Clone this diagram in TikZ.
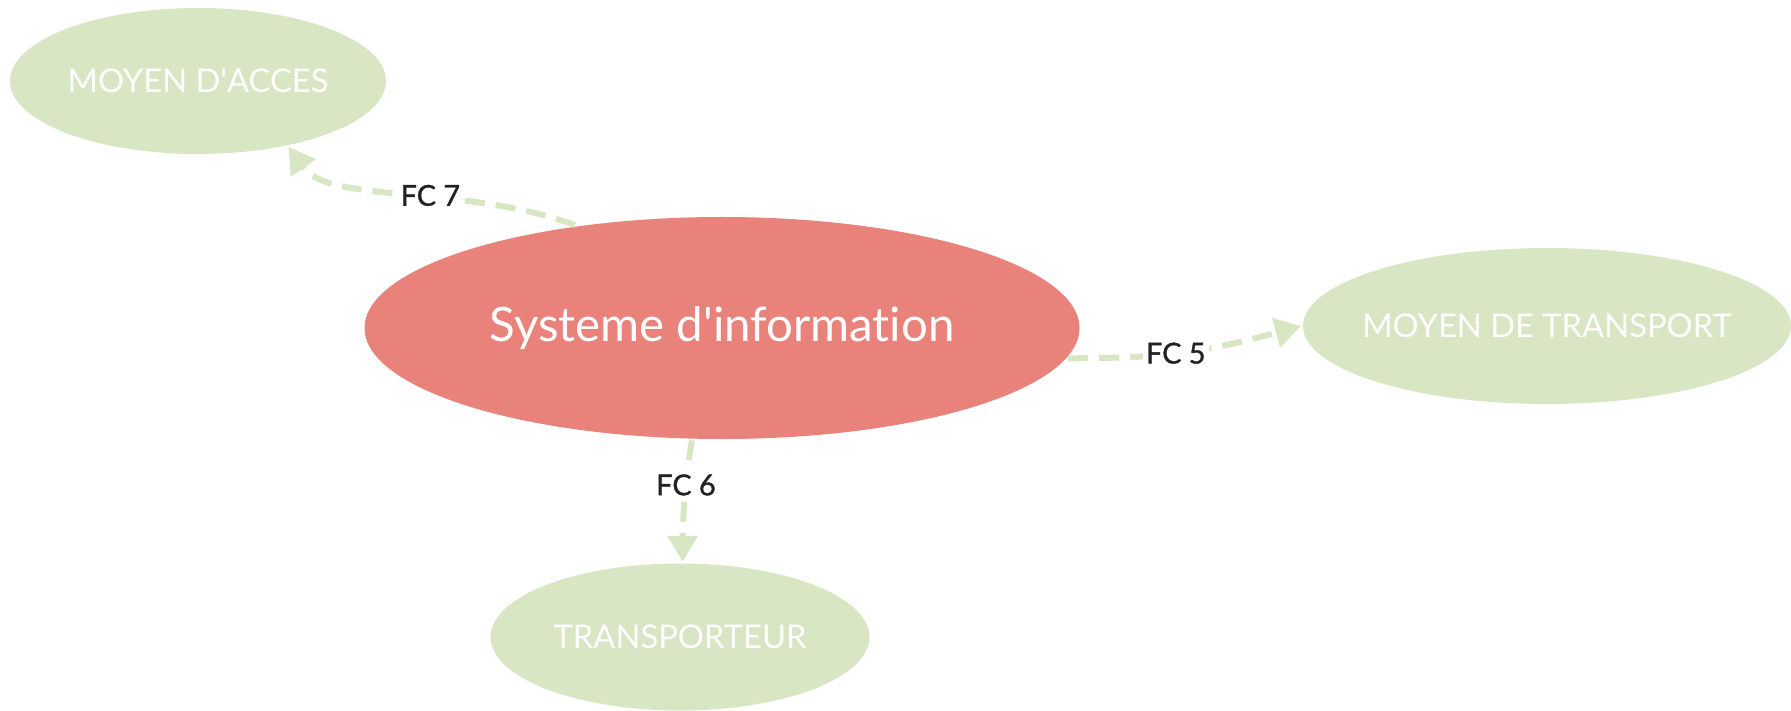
\documentclass[tikz,border=0pt]{standalone}
\usepackage{fontspec}
\setmainfont{Lato}[Ligatures=NoCommon]
\newfontfamily\etiqfont{Lato}[FakeBold=1.2]
\usetikzlibrary{shapes.geometric,arrows.meta}
\definecolor{vertclair}{RGB}{216,230,196}
\definecolor{rouge}{RGB}{232,130,122}
\definecolor{texte}{RGB}{34,34,34}
\tikzset{
every picture/.style={
line width=1pt
}}
\tikzset{
    systeme/.style={
      ellipse,
      fill=rouge,
      text=white,
      inner sep=0pt,
      font=\fontsize{13.5}{16}\selectfont
    },
    element/.style={
      ellipse,
      fill=vertclair,
      text=white,
      inner sep=0pt,
      inner xsep=-0.5cm,
      font=\fontsize{9.3}{11}\selectfont
    },
    fonction/.style={
      draw=vertclair,
      line width=0.06cm,
      dash pattern=on 0.2cm off 0.11cm,
      -{Triangle[length=0.26cm,width=0.29cm]}
    },
    etiquette/.style={
      fill=white,
      text=texte,
      inner sep=1pt,
      font=\etiqfont\fontsize{8.2}{10}\selectfont
    }
}
\begin{document}
\begin{tikzpicture}
  \useasboundingbox (0,0) rectangle (17.91,7.10);

  \node [systeme, minimum width=7.15cm, minimum height=2.22cm] (si) at (7.22,3.82) {Systeme d\textquotesingle information};
  \node [element, minimum width=3.76cm, minimum height=1.46cm] (acces) at (1.98,6.29) {MOYEN D\textquotesingle ACCES};
  \node [element, minimum width=4.88cm, minimum height=1.56cm] (transport) at (15.47,3.84) {MOYEN DE TRANSPORT};
  \node [element, minimum width=3.79cm, minimum height=1.47cm] (transporteur) at (6.80,0.73) {TRANSPORTEUR};

  \draw [fonction] (si.145) .. controls +(160:1.2) and +(-55:0.7) .. (acces.-36)
    node [etiquette, pos=0.42] (fc7) {FC 7};
  \draw [fonction] (si.-5) .. controls +(0:1) and +(195:1) .. (transport.180)
    node [etiquette, pos=0.45] (fc5) {FC 5};
  \draw [fonction] (si.-105) .. controls +(-100:0.4) and +(90:0.4) .. (transporteur.88)
    node [etiquette, pos=0.37] (fc6) {FC 6};
\end{tikzpicture}
\end{document}
